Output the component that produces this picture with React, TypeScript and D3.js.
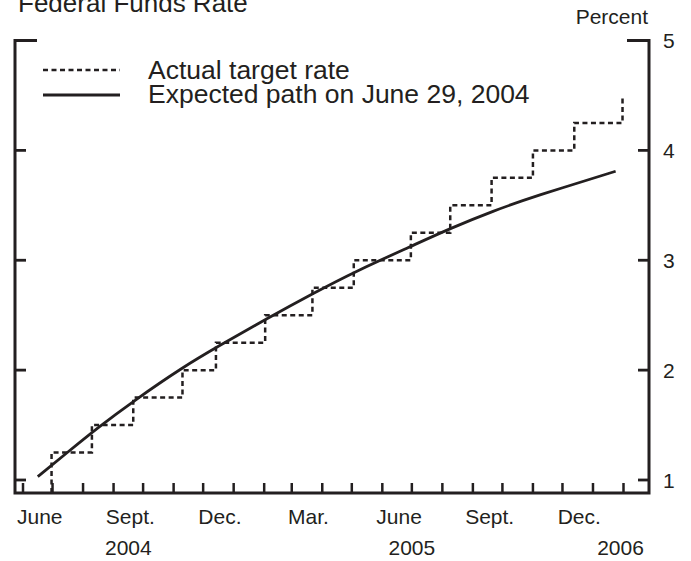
import React from "react";
import * as d3 from "d3";

const targetDates = ["2004-06-30", "2004-08-10", "2004-09-21", "2004-11-10", "2004-12-14", "2005-02-02", "2005-03-22", "2005-05-03", "2005-06-30", "2005-08-09", "2005-09-20", "2005-11-01", "2005-12-13", "2006-01-31"];
const targetValues = [1.25, 1.5, 1.75, 2.0, 2.25, 2.5, 2.75, 3.0, 3.25, 3.5, 3.75, 4.0, 4.25, 4.5];

const expectedDates = ["2004-06-16", "2004-07-16", "2004-08-15", "2004-09-23", "2004-11-11", "2004-12-15", "2005-02-04", "2005-03-23", "2005-05-05", "2005-07-01", "2005-08-09", "2005-09-22", "2005-11-02", "2006-01-24"];
const expectedValues = [1.03, 1.25, 1.47, 1.73, 2.03, 2.21, 2.47, 2.7, 2.9, 3.13, 3.29, 3.45, 3.58, 3.81];

const yTicks = [1, 2, 3, 4, 5];
const monthLabels = ["June", "Sept.", "Dec.", "Mar.", "June", "Sept.", "Dec."];
const monthLabelDates = ["2004-06-16", "2004-09-16", "2004-12-16", "2005-03-16", "2005-06-16", "2005-09-16", "2005-12-16"];
const yearLabels = ["2004", "2005", "2006"];
const yearLabelDates = ["2004-09-16", "2005-07-01", "2006-01-29"];

const legendLabels = ["Actual target rate", "Expected path on June 29, 2004"];

const parse = d3.utcParse("%Y-%m-%d");
const INK = "#231f20";
const FONT = "'Liberation Sans', Arial, Helvetica, sans-serif";

export default function App() {
  const W = 691, H = 561;
  const left = 15, right = 649, top = 40.5, bottom = 493;

  const x = d3.scaleUtc().domain([parse("2004-06-01")!, parse("2006-02-01")!]).range([23, 623.5]);
  const y = d3.scaleLinear().domain([1, 5]).range([480, 40.5]);
  const floorVal = y.invert(bottom);

  const monthTicks = d3.utcMonth.range(parse("2004-06-01")!, parse("2006-02-02")!);

  const stepPts: [Date, number][] = [[parse(targetDates[0])!, floorVal]];
  targetDates.forEach((d, i) => stepPts.push([parse(d)!, targetValues[i]]));
  const stepLine = d3.line<[Date, number]>().x(d => x(d[0])).y(d => y(d[1])).curve(d3.curveStepAfter);

  const expPts: [Date, number][] = expectedDates.map((d, i) => [parse(d)!, expectedValues[i]]);
  const expLine = d3.line<[Date, number]>().x(d => x(d[0])).y(d => y(d[1])).curve(d3.curveBasis);

  return (
    <svg width={W} height={H} style={{ position: "absolute", left: 0, top: 0, background: "#fff" }} fontFamily={FONT}>
      <rect x={0} y={0} width={W} height={H} fill="#fff" />
      <text x={18} y={12} fontSize={26} fill={INK}>Federal Funds Rate</text>
      <text x={648} y={24} fontSize={21} fill={INK} textAnchor="end">Percent</text>

      {/* frame */}
      <path d={`M${left + 22},${top}H${left}V${bottom}H${right}V${top}H${right - 22}`} fill="none" stroke={INK} strokeWidth={3} strokeLinejoin="miter" />

      {/* y ticks */}
      {yTicks.filter(t => t < 5).map(t => (
        <g key={t}>
          <line x1={left} x2={left + 11} y1={y(t)} y2={y(t)} stroke={INK} strokeWidth={2.8} />
          <line x1={right - 11} x2={right} y1={y(t)} y2={y(t)} stroke={INK} strokeWidth={2.8} />
        </g>
      ))}
      {yTicks.map(t => (
        <text key={"l" + t} x={663} y={y(t) + 7.5} fontSize={21} fill={INK}>{t}</text>
      ))}

      {/* x ticks */}
      {monthTicks.map((d, i) => (
        <line key={i} x1={x(d)} x2={x(d)} y1={bottom} y2={bottom - 10} stroke={INK} strokeWidth={2.5} />
      ))}
      {monthLabels.map((m, i) => (
        <text key={"m" + i} x={x(parse(monthLabelDates[i])!) + 2} y={524} fontSize={21} fill={INK} textAnchor="middle">{m}</text>
      ))}
      {yearLabels.map((m, i) => (
        <text key={"y" + i} x={x(parse(yearLabelDates[i])!)} y={555} fontSize={21} fill={INK} textAnchor="middle">{m}</text>
      ))}

      {/* series */}
      <path d={stepLine(stepPts) || ""} fill="none" stroke={INK} strokeWidth={2.5} strokeDasharray="5,3.5" />
      <path d={expLine(expPts) || ""} fill="none" stroke={INK} strokeWidth={2.8} />

      {/* legend */}
      <line x1={43} x2={120} y1={70} y2={70} stroke={INK} strokeWidth={2.5} strokeDasharray="5,3.5" />
      <line x1={43} x2={120} y1={95} y2={95} stroke={INK} strokeWidth={2.8} />
      <text x={148} y={79} fontSize={26.5} fill={INK}>{legendLabels[0]}</text>
      <text x={148} y={103} fontSize={26.5} fill={INK}>{legendLabels[1]}</text>
    </svg>
  );
}
